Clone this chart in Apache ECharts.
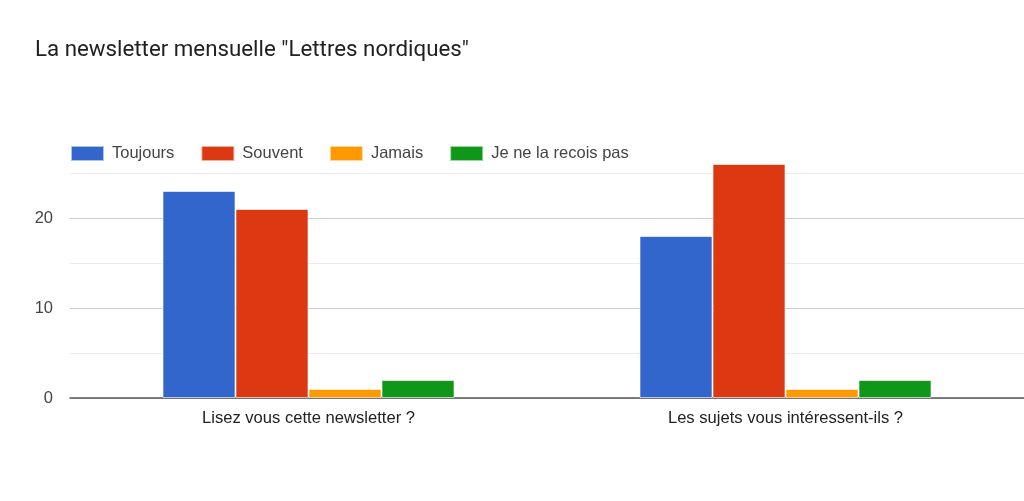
<!DOCTYPE html>
<html>
<head>
<meta charset="utf-8">
<script src="https://cdn.jsdelivr.net/npm/echarts@6/dist/echarts.min.js"></script>
<style>
  html, body { margin: 0; padding: 0; background: #fff; }
  #chart { width: 1024px; height: 501px; }
</style>
</head>
<body>
<div id="chart"></div>
<script>
const questions = ['Lisez vous cette newsletter ?', 'Les sujets vous intéressent-ils ?']
const toujours = [23, 18]
const souvent = [21, 26]
const jamais = [1, 1]
const jeNeLaRecoisPas = [2, 2]

const chart = echarts.init(document.getElementById('chart'))

// bars touch each other, with a faint light edge
const barStyle = color => ({
  color: color,
  borderColor: 'rgba(255,255,255,0.6)',
  borderWidth: 1,
})

chart.setOption({
  animation: false,
  backgroundColor: '#fff',
  textStyle: { fontFamily: 'Liberation Sans, Arial' },
  title: {
    text: 'La newsletter mensuelle "Lettres nordiques"',
    left: 35,
    top: 39,
    padding: 0,
    textStyle: { fontSize: 22.3, fontWeight: 'normal', color: '#212121', fontFamily: 'Roboto' },
  },
  legend: {
    left: 70,
    top: 145,
    padding: 0,
    itemWidth: 33,
    itemHeight: 15,
    itemGap: 26,
    icon: 'rect',
    textStyle: { fontSize: 16.5, color: '#444', padding: [0, 0, 0, 3] },
  },
  grid: {
    left: 70,
    right: 0,
    top: 173,
    bottom: 103,
  },
  xAxis: {
    type: 'category',
    data: questions,
    axisLine: { lineStyle: { color: '#555', width: 1.5 } },
    axisTick: { show: false },
    axisLabel: { fontSize: 16.6, color: '#222', margin: 12 },
  },
  yAxis: {
    type: 'value',
    min: 0,
    max: 25,
    interval: 5,
    axisLine: { show: false },
    axisTick: { show: false },
    axisLabel: {
      fontSize: 16.5,
      color: '#444',
      margin: 17,
      formatter: v => (v % 10 === 0 ? String(v) : ''),
    },
    splitLine: { lineStyle: { color: ['#ccc', '#ebebeb'], width: 1 } },
  },
  series: [
    { name: 'Toujours', type: 'bar', data: toujours, barWidth: 73, barGap: '0%', clip: false, itemStyle: barStyle('#3366cc') },
    { name: 'Souvent', type: 'bar', data: souvent, barWidth: 73, barGap: '0%', clip: false, itemStyle: barStyle('#dc3912') },
    { name: 'Jamais', type: 'bar', data: jamais, barWidth: 73, barGap: '0%', clip: false, itemStyle: barStyle('#ff9900') },
    { name: 'Je ne la recois pas', type: 'bar', data: jeNeLaRecoisPas, barWidth: 73, barGap: '0%', clip: false, itemStyle: barStyle('#109618') },
  ],
})
</script>
</body>
</html>
